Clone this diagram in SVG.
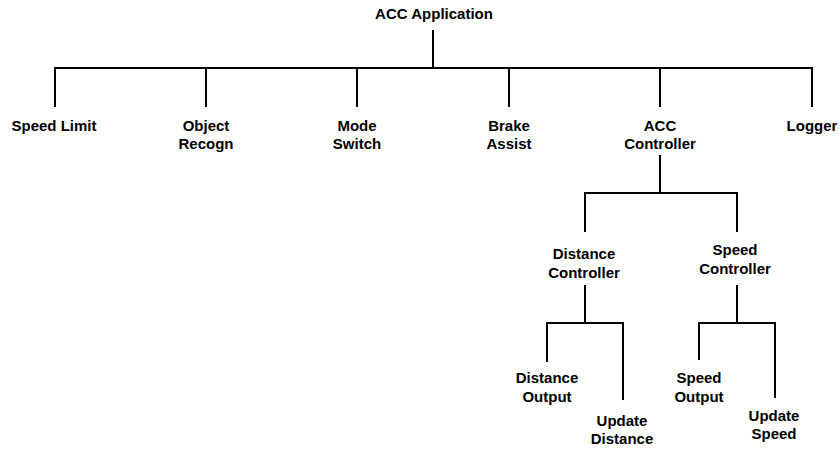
<svg xmlns="http://www.w3.org/2000/svg" width="840" height="450" viewBox="0 0 840 450">
<style>
text{font-family:"Liberation Sans",Arial,sans-serif;font-weight:bold;font-size:15px;fill:#000;text-anchor:middle}
.c line{stroke:#000;stroke-width:2;fill:none}
</style>
<rect width="840" height="450" fill="#fff"/>
<g class="c" id="connectors">
<line x1="433" y1="30" x2="433" y2="68"/>
<line x1="54" y1="68" x2="813" y2="68"/>
<line x1="55" y1="68" x2="55" y2="107"/>
<line x1="206" y1="68" x2="206" y2="107"/>
<line x1="357" y1="68" x2="357" y2="107"/>
<line x1="509" y1="68" x2="509" y2="107"/>
<line x1="660" y1="68" x2="660" y2="107"/>
<line x1="812" y1="68" x2="812" y2="107"/>
<line x1="660" y1="155" x2="660" y2="193"/>
<line x1="584" y1="193" x2="738" y2="193"/>
<line x1="585" y1="193" x2="585" y2="232"/>
<line x1="737" y1="193" x2="737" y2="232"/>
<line x1="585" y1="285" x2="585" y2="323"/>
<line x1="546" y1="323" x2="624" y2="323"/>
<line x1="547" y1="323" x2="547" y2="362"/>
<line x1="623" y1="323" x2="623" y2="400"/>
<line x1="737" y1="285" x2="737" y2="323"/>
<line x1="698" y1="323" x2="776" y2="323"/>
<line x1="699" y1="323" x2="699" y2="360"/>
<line x1="775" y1="323" x2="775" y2="398"/>
</g>
<g id="acc-application"><text x="434" y="19">ACC Application</text></g>
<g id="speed-limit"><text x="54" y="131">Speed Limit</text></g>
<g id="object-recogn"><text x="206" y="131">Object</text><text x="206" y="149">Recogn</text></g>
<g id="mode-switch"><text x="357" y="131">Mode</text><text x="357" y="149">Switch</text></g>
<g id="brake-assist"><text x="509" y="131">Brake</text><text x="509" y="149">Assist</text></g>
<g id="acc-controller"><text x="660" y="131">ACC</text><text x="660" y="149">Controller</text></g>
<g id="logger"><text x="812" y="131">Logger</text></g>
<g id="distance-controller"><text x="584" y="259">Distance</text><text x="584" y="278">Controller</text></g>
<g id="speed-controller"><text x="735" y="255">Speed</text><text x="735" y="274">Controller</text></g>
<g id="distance-output"><text x="547" y="383">Distance</text><text x="547" y="402">Output</text></g>
<g id="update-distance"><text x="622" y="426">Update</text><text x="622" y="444">Distance</text></g>
<g id="speed-output"><text x="699" y="383">Speed</text><text x="699" y="402">Output</text></g>
<g id="update-speed"><text x="774" y="421">Update</text><text x="774" y="439">Speed</text></g>
</svg>
